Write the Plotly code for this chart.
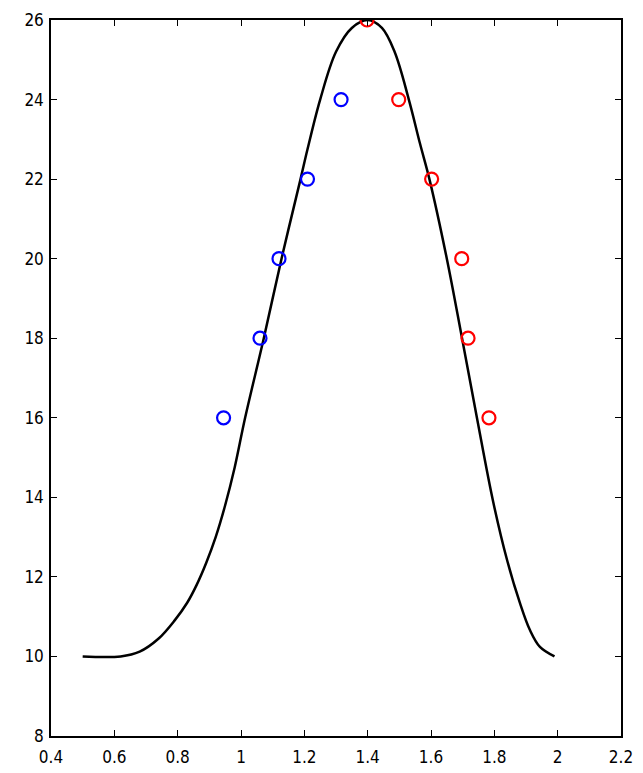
import plotly.graph_objects as go

curve_x = [0.50, 0.62, 0.68, 0.74, 0.79, 0.83, 0.86, 0.89, 0.92, 0.95, 0.98, 1.013,
           1.072, 1.128, 1.188, 1.21, 1.25, 1.30, 1.35, 1.40, 1.445, 1.485, 1.53, 1.565,
           1.595, 1.65, 1.698, 1.745, 1.796, 1.84, 1.881, 1.912, 1.944, 1.99]
curve_y = [10.0, 10.0, 10.12, 10.45, 10.9, 11.35, 11.8, 12.35, 13.0, 13.8, 14.75, 16.0,
           18.0, 20.0, 22.0, 22.75, 24.0, 25.2, 25.8, 26.0, 25.8, 25.2, 24.0, 22.9,
           22.0, 20.0, 18.0, 16.0, 13.9, 12.43, 11.34, 10.67, 10.24, 10.0]

blue_x = [0.945, 1.06, 1.12, 1.21, 1.316]
blue_y = [16, 18, 20, 22, 24]
red_x = [1.398, 1.498, 1.602, 1.697, 1.717, 1.783]
red_y = [26, 24, 22, 20, 18, 16]

x_ticks = [0.4, 0.6, 0.8, 1.0, 1.2, 1.4, 1.6, 1.8, 2.0, 2.2]
x_labels = ["0.4", "0.6", "0.8", "1", "1.2", "1.4", "1.6", "1.8", "2", "2.2"]
y_ticks = [8, 10, 12, 14, 16, 18, 20, 22, 24, 26]

fig = go.Figure()
fig.add_trace(go.Scatter(x=curve_x, y=curve_y, mode="lines",
                         line=dict(color="black", width=2.5, shape="spline", smoothing=1.0),
                         showlegend=False, hoverinfo="skip"))
fig.add_trace(go.Scatter(x=blue_x, y=blue_y, mode="markers",
                         marker=dict(symbol="circle-open", size=13, color="#0000ff",
                                     line=dict(width=2.2, color="#0000ff")),
                         showlegend=False))
fig.add_trace(go.Scatter(x=red_x, y=red_y, mode="markers",
                         marker=dict(symbol="circle-open", size=13, color="#ff0000",
                                     line=dict(width=2.2, color="#ff0000")),
                         showlegend=False))

font = dict(family="DejaVu Sans Condensed, Liberation Sans Narrow, sans-serif",
            size=17, color="black")
axis_common = dict(showgrid=False, zeroline=False, showline=True, linecolor="black",
                   linewidth=1.5, mirror="ticks", ticks="inside", ticklen=6,
                   tickcolor="black", tickwidth=1, tickfont=font, automargin=False)
fig.update_xaxes(range=[0.4, 2.2], tickvals=x_ticks, ticktext=x_labels,
                 ticklabelstandoff=5, **axis_common)
fig.update_yaxes(range=[8, 26], tickvals=y_ticks, ticklabelstandoff=2, **axis_common)
# page body adds an 8px offset; figure sized to fit the window
fig.update_layout(width=635, height=765, plot_bgcolor="white", paper_bgcolor="white",
                  margin=dict(l=43, r=22, t=12, b=37), showlegend=False)
fig.write_html("out.html")
